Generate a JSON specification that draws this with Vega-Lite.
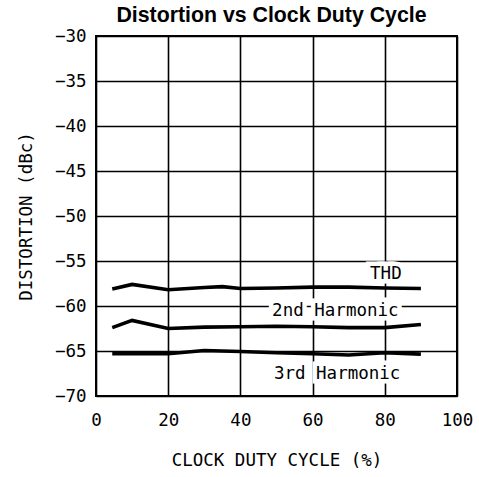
{
  "$schema": "https://vega.github.io/schema/vega-lite/v6.json",
  "autosize": "none",
  "width": 361,
  "height": 360,
  "padding": {"left": 96, "top": 36, "right": 22, "bottom": 81},
  "background": "white",
  "title": {
    "text": "Distortion vs Clock Duty Cycle",
    "font": "Liberation Sans",
    "fontWeight": "bold",
    "fontSize": 21.3,
    "color": "black",
    "anchor": "middle",
    "offset": 1,
    "dx": -5
  },
  "config": {
    "view": {"stroke": "black", "strokeWidth": 2},
    "axis": {
      "grid": true,
      "gridColor": "#000000",
      "gridWidth": 1.6,
      "gridOpacity": 1,
      "domain": false,
      "ticks": false,
      "labelFont": "DejaVu Sans Mono",
      "labelFontSize": 17.5,
      "labelColor": "black",
      "titleFont": "DejaVu Sans Mono",
      "titleFontSize": 17.5,
      "titleFontWeight": "normal",
      "titleColor": "black"
    }
  },
  "datasets": {
    "curves": [
      {"series": "THD", "x": 4.5, "y": -58.1},
      {"series": "THD", "x": 10, "y": -57.6},
      {"series": "THD", "x": 20, "y": -58.2},
      {"series": "THD", "x": 30, "y": -57.95},
      {"series": "THD", "x": 35, "y": -57.85},
      {"series": "THD", "x": 40, "y": -58.05},
      {"series": "THD", "x": 50, "y": -58.0},
      {"series": "THD", "x": 60, "y": -57.9},
      {"series": "THD", "x": 70, "y": -57.9},
      {"series": "THD", "x": 80, "y": -58.0},
      {"series": "THD", "x": 90, "y": -58.05},
      {"series": "2nd Harmonic", "x": 4.5, "y": -62.4},
      {"series": "2nd Harmonic", "x": 10, "y": -61.6},
      {"series": "2nd Harmonic", "x": 20, "y": -62.5},
      {"series": "2nd Harmonic", "x": 30, "y": -62.35},
      {"series": "2nd Harmonic", "x": 40, "y": -62.3},
      {"series": "2nd Harmonic", "x": 50, "y": -62.25},
      {"series": "2nd Harmonic", "x": 60, "y": -62.3},
      {"series": "2nd Harmonic", "x": 70, "y": -62.4},
      {"series": "2nd Harmonic", "x": 80, "y": -62.4},
      {"series": "2nd Harmonic", "x": 90, "y": -62.05},
      {"series": "3rd Harmonic", "x": 4.5, "y": -65.3},
      {"series": "3rd Harmonic", "x": 20, "y": -65.3},
      {"series": "3rd Harmonic", "x": 30, "y": -64.95},
      {"series": "3rd Harmonic", "x": 40, "y": -65.05},
      {"series": "3rd Harmonic", "x": 50, "y": -65.2},
      {"series": "3rd Harmonic", "x": 60, "y": -65.3},
      {"series": "3rd Harmonic", "x": 70, "y": -65.45},
      {"series": "3rd Harmonic", "x": 80, "y": -65.2},
      {"series": "3rd Harmonic", "x": 90, "y": -65.35}
    ],
    "labels": [
      {"label": "THD", "x": 80.3, "y": -56.4},
      {"label": "2nd Harmonic", "x": 66.3, "y": -60.6},
      {"label": "3rd Harmonic", "x": 66.8, "y": -67.5}
    ]
  },
  "layer": [
    {
      "data": {"name": "labels"},
      "mark": {"type": "text", "font": "DejaVu Sans Mono", "fontSize": 17.5, "stroke": "white", "strokeWidth": 9, "strokeJoin": "miter", "fill": "white", "align": "center", "baseline": "middle"},
      "encoding": {
        "x": {"field": "x", "type": "quantitative", "scale": {"domain": [0, 100]}, "axis": {"values": [0, 10, 20, 30, 40, 50, 60, 70, 80, 90, 100], "labelExpr": "datum.value % 20 === 0 ? datum.label : ''", "labelPadding": 15, "title": "CLOCK DUTY CYCLE (%)", "titlePadding": 23, "labelFlush": false}},
        "y": {"field": "y", "type": "quantitative", "scale": {"domain": [-70, -30]}, "axis": {"values": [-70, -65, -60, -55, -50, -45, -40, -35, -30], "labelExpr": "replace(datum.label, '-', '\u2212')", "labelPadding": 10, "title": "DISTORTION (dBc)", "titlePadding": 19}},
        "text": {"field": "label"}
      }
    },
    {
      "data": {"name": "labels"},
      "mark": {"type": "text", "font": "DejaVu Sans Mono", "fontSize": 17.5, "fill": "black", "align": "center", "baseline": "middle"},
      "encoding": {
        "x": {"field": "x", "type": "quantitative"},
        "y": {"field": "y", "type": "quantitative"},
        "text": {"field": "label"}
      }
    },
    {
      "data": {"name": "curves"},
      "mark": {"type": "line", "color": "black", "strokeWidth": 3.6, "interpolate": "linear"},
      "encoding": {
        "x": {"field": "x", "type": "quantitative"},
        "y": {"field": "y", "type": "quantitative"},
        "detail": {"field": "series"}
      }
    }
  ]
}
